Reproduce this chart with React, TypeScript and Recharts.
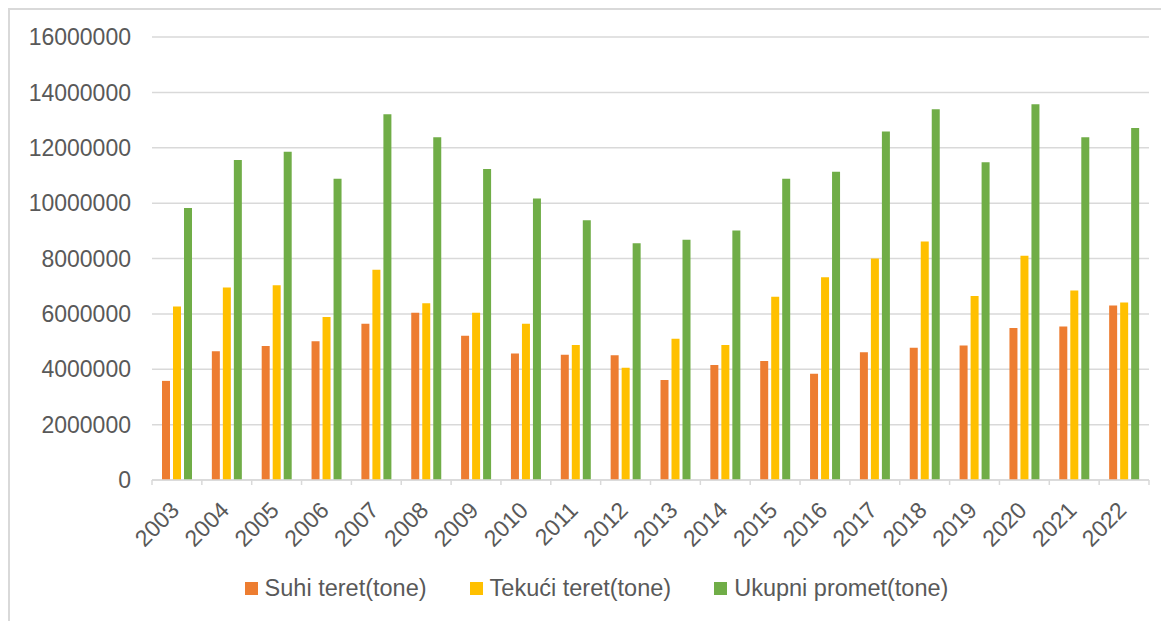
import { BarChart, Bar, XAxis, YAxis, CartesianGrid, Legend } from "recharts";

const years = [
  "2003", "2004", "2005", "2006", "2007", "2008", "2009", "2010", "2011", "2012",
  "2013", "2014", "2015", "2016", "2017", "2018", "2019", "2020", "2021", "2022",
];

const suhiTeret = [
  3580000, 4650000, 4840000, 5010000, 5640000, 6040000, 5210000, 4570000, 4520000, 4510000,
  3610000, 4150000, 4300000, 3840000, 4610000, 4780000, 4860000, 5490000, 5540000, 6300000,
];

const tekuciTeret = [
  6270000, 6950000, 7030000, 5890000, 7590000, 6380000, 6040000, 5640000, 4880000, 4050000,
  5100000, 4880000, 6620000, 7320000, 8000000, 8610000, 6650000, 8100000, 6840000, 6410000,
];

const ukupniPromet = [
  9820000, 11560000, 11860000, 10880000, 13210000, 12380000, 11230000, 10170000, 9380000, 8550000,
  8680000, 9010000, 10880000, 11130000, 12590000, 13390000, 11480000, 13570000, 12380000, 12710000,
];

const yTicks = [0, 2000000, 4000000, 6000000, 8000000, 10000000, 12000000, 14000000, 16000000];

const series = [
  { key: "suhi", name: "Suhi teret(tone)", color: "#ED7D31" },
  { key: "tekuci", name: "Tekući teret(tone)", color: "#FFC000" },
  { key: "ukupno", name: "Ukupni promet(tone)", color: "#70AD47" },
];

const data = years.map((year, i) => ({
  year,
  suhi: suhiTeret[i],
  tekuci: tekuciTeret[i],
  ukupno: ukupniPromet[i],
}));

const FONT = '"Liberation Sans", Arial, sans-serif';
const TEXT = "#595959";
const GRID = "#d9d9d9";

// year label rotated like Excel, plus the tick marks between categories
function YearTick(props: any) {
  const { x, y, payload, index, width, visibleTicksCount } = props;
  const count = visibleTicksCount || years.length;
  const band = width && count ? width / count : 49.85;
  const last = index === count - 1;
  return (
    <g>
      <line x1={x - band / 2} x2={x - band / 2} y1={y} y2={y + 5} stroke={GRID} strokeWidth={1.5} />
      {last && <line x1={x + band / 2} x2={x + band / 2} y1={y} y2={y + 5} stroke={GRID} strokeWidth={1.5} />}
      <g transform={`translate(${x - 2},${y + 26})`}>
        <text
          x={0}
          y={0}
          dy="0.35em"
          textAnchor="end"
          transform="rotate(-45)"
          fill={TEXT}
          fontSize={23}
          fontFamily={FONT}
        >
          {payload.value}
        </text>
      </g>
    </g>
  );
}

function LegendContent() {
  return (
    <div
      style={{
        display: "flex",
        justifyContent: "center",
        gap: 43,
        paddingLeft: 34,
        fontSize: 23.5,
        lineHeight: "30px",
        color: TEXT,
        fontFamily: FONT,
      }}
    >
      {series.map((s) => (
        <span key={s.key} style={{ display: "flex", alignItems: "center" }}>
          <span style={{ width: 13, height: 13, background: s.color, marginRight: 7, display: "inline-block" }} />
          {s.name}
        </span>
      ))}
    </div>
  );
}

export default function App() {
  return (
    <div
      style={{
        width: 1161,
        height: 613,
        borderTop: `2px solid ${GRID}`,
        borderLeft: `2px solid ${GRID}`,
        boxSizing: "border-box",
        background: "#fff",
      }}
    >
      <BarChart
        width={1159}
        height={611}
        data={data}
        margin={{ top: 27, right: 20, left: 0, bottom: 0 }}
        barSize={8}
        barGap={3}
      >
        <CartesianGrid vertical={false} stroke={GRID} strokeWidth={1.5} />
        <XAxis
          dataKey="year"
          interval={0}
          height={93}
          tickSize={0}
          tickMargin={0}
          tickLine={false}
          axisLine={{ stroke: GRID, strokeWidth: 1.5 }}
          tick={<YearTick />}
        />
        <YAxis
          width={142}
          domain={[0, 16000000]}
          ticks={yTicks}
          interval={0}
          axisLine={false}
          tickLine={false}
          tickSize={0}
          tickMargin={21}
          tick={{ fill: TEXT, fontSize: 23, fontFamily: FONT }}
        />
        <Legend verticalAlign="bottom" height={48} content={<LegendContent />} />
        {series.map((s) => (
          <Bar key={s.key} dataKey={s.key} name={s.name} fill={s.color} isAnimationActive={false} />
        ))}
      </BarChart>
    </div>
  );
}
